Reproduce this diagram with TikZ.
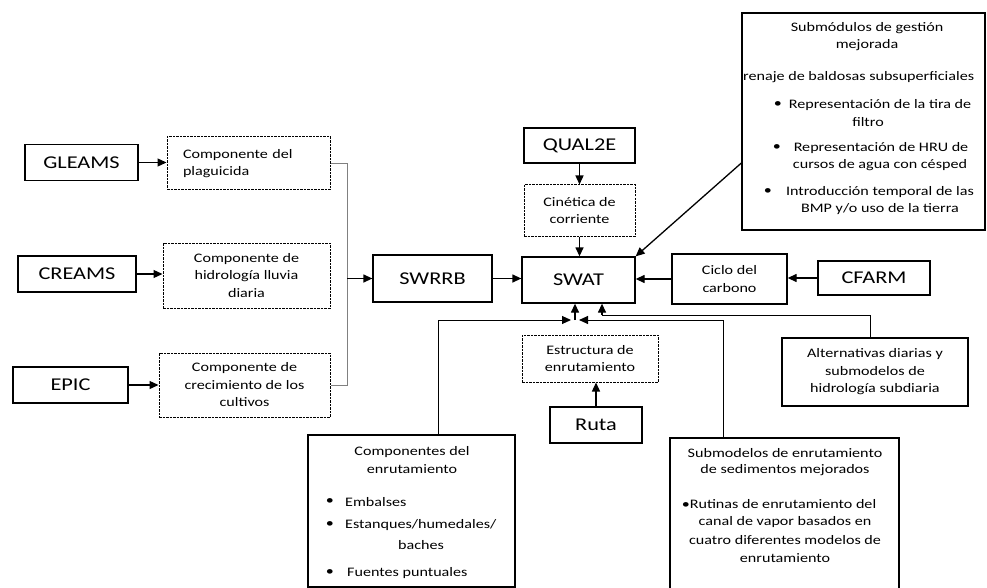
\documentclass[tikz,border=0pt]{standalone}
\usepackage{fontspec}
\setmainfont{Carlito}[FakeStretch=1.24]
\usetikzlibrary{arrows.meta}
\begin{document}
\begin{tikzpicture}[x=1pt,y=-1pt,
 box/.style={draw, line width=1.3pt, inner sep=0pt, align=center},
 dbox/.style={draw, line width=1pt, dash pattern=on 2.5pt off 1pt, inner sep=0pt, align=center},
 big/.style={font=\fontsize{18}{22}\selectfont},
 small/.style={font=\fontsize{13}{17.5}\selectfont},
 txt/.style={font=\fontsize{13}{17.5}\selectfont, inner sep=0pt},
 arr/.style={line width=1.3pt, -{Triangle[length=9pt,width=8pt]}},
 conn/.style={line width=1pt},
]
\useasboundingbox (0,0) rectangle (987,588);
% left column
\node[box,big,minimum width=113pt,minimum height=36pt] (gleams) at (81.5,162.5) {GLEAMS};
\node[box,big,minimum width=118pt,minimum height=36pt] (creams) at (77,274) {CREAMS};
\node[box,big,minimum width=115pt,minimum height=36pt] (epic) at (70.5,385) {EPIC};
\node[dbox,small,text width=131pt,inner xsep=16pt,align=left,minimum height=53pt] (plag) at (248.5,163.5) {Componente del\\plaguicida};
\node[dbox,small,minimum width=167pt,minimum height=65pt] (hyd) at (246.5,275.5) {Componente de\\hidrología lluvia\\diaria};
\node[dbox,small,minimum width=171pt,minimum height=64pt] (crec) at (244.5,385) {Componente de\\crecimiento de los\\cultivos};
\draw[arr] (gleams.east) -- (gleams.east -| plag.west);
\draw[arr] (creams.east) -- (creams.east -| hyd.west);
\draw[arr] (epic.east) -- (crec.west);
\draw[gray,line width=0.9pt] (plag.east) -- ++(17,0) |- (crec.east);
\coordinate (br) at (347,278.5);
% centre
\node[box,big,minimum width=119pt,minimum height=47pt] (swrrb) at (432.5,278.5) {SWRRB};
\node[box,big,minimum width=113pt,minimum height=46pt] (swat) at (578.5,280) {SWAT};
\node[box,big,minimum width=111pt,minimum height=35pt] (qual) at (579.5,145.5) {QUAL2E};
\node[dbox,small,minimum width=111pt,minimum height=51pt] (cin) at (579.5,210.5) {Cinética de\\corriente};
\node[dbox,small,minimum width=136pt,minimum height=47pt] (estr) at (590,358.5) {Estructura de\\enrutamiento};
\node[box,big,minimum width=92pt,minimum height=36pt] (ruta) at (596,425) {Ruta};
\draw[arr] (br) -- (swrrb.west);
\draw[arr] (swrrb.east) -- (swrrb.east -| swat.west);
\draw[arr] (qual.south) -- (cin.north);
\draw[arr] (cin.south) -- (cin.south |- swat.north);
\draw[arr] (ruta.north) -- (ruta.north |- estr.south);
% right
\node[box,small,minimum width=115pt,minimum height=50pt] (ciclo) at (729.5,279) {Ciclo del\\carbono};
\node[box,big,minimum width=112pt,minimum height=34pt] (cfarm) at (874,278) {CFARM};
\draw[arr] (cfarm.west) -- (cfarm.west -| ciclo.east);
\draw[arr] (ciclo.west) -- (ciclo.west -| swat.east);
\node[box,small,minimum width=186pt,minimum height=68pt] (alt) at (875,372) {Alternativas diarias y\\submodelos de\\hidrología subdiaria};
% submodulos box
\node[box,minimum width=243pt,minimum height=217pt] (sub) at (863.5,121.5) {};
\node[txt] (s1) at (867,28) {Submódulos de gestión};
\node[txt] (s2) at (867,45) {mejorada};
\node[txt,anchor=west] (s3) at (743,77) {renaje de baldosas subsuperficiales};
\node[txt] (b1) at (778,105) {\textbullet};
\node[txt] (s4) at (880,105) {Representación de la tira de};
\node[txt] (s5) at (868,122) {filtro};
\node[txt] (b2) at (777,148) {\textbullet};
\node[txt] (s6) at (881,148) {Representación de HRU de};
\node[txt] (s7) at (880,165) {cursos de agua con césped};
\node[txt] (b3) at (768,192) {\textbullet};
\node[txt] (s8) at (880,192) {Introducción temporal de las};
\node[txt] (s9) at (880,209) {BMP y/o uso de la tierra};
\draw[arr] (sub.west |- 0,163) -- (swat.north east);
% componentes box
\node[box,minimum width=207pt,minimum height=152pt] (comp) at (411.5,511) {};
\node[txt] (c1) at (412,452) {Componentes del};
\node[txt] (c2) at (412,469) {enrutamiento};
\node[txt] (cb1) at (330,502) {\textbullet};
\node[txt,anchor=west] (c3) at (345,502) {Embalses};
\node[txt] (cb2) at (330,525) {\textbullet};
\node[txt,anchor=west] (c4) at (345,525) {Estanques/humedales/};
\node[txt] (c5) at (421,545) {baches};
\node[txt] (cb3) at (330,573) {\textbullet};
\node[txt,anchor=west] (c6) at (347,573) {Fuentes puntuales};
% submodelos box
\node[box,minimum width=229pt,minimum height=156pt] (subm) at (784.5,516) {};
\node[txt] (m1) at (785,453) {Submodelos de enrutamiento};
\node[txt] (m2) at (785,470) {de sedimentos mejorados};
\node[txt] (m3) at (779,504) {\textbullet Rutinas de enrutamiento del};
\node[txt] (m4) at (785,522) {canal de vapor basados en};
\node[txt] (m5) at (785,540) {cuatro diferentes modelos de};
\node[txt] (m6) at (785,558) {enrutamiento};
% bottom connectors
\coordinate (j) at (575,320);
\coordinate (jl) at (571,320);
\coordinate (jr) at (579,320);
\coordinate (k) at (602,315);
\draw[conn,-{Triangle[length=9pt,width=8pt]}] (comp.north -| 438,0) |- (jl);
\draw[conn,-{Triangle[length=9pt,width=8pt]}] (subm.north -| 723,0) |- (jr);
\draw[arr] (j) -- (j |- swat.south);
\draw[conn] (alt.north -| 870,0) |- (k);
\draw[arr] (k) -- (k |- swat.south);
\end{tikzpicture}
\end{document}
